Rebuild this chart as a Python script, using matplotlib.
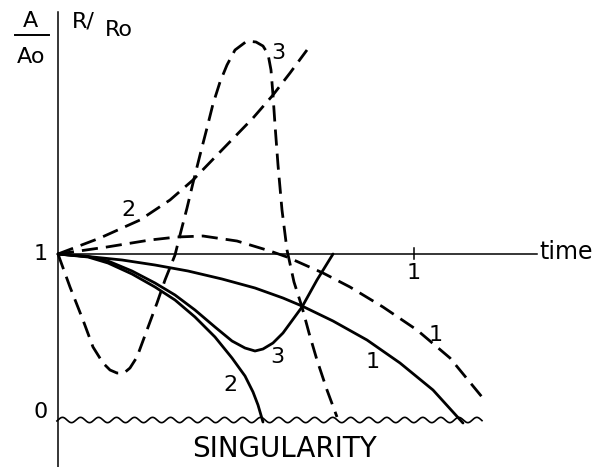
import numpy as np
import matplotlib
matplotlib.use("Agg")
import matplotlib.pyplot as plt

# ---------------- data (time, A/Ao or R/Ro) ----------------
solid1_t = [0, 0.0843, 0.1798, 0.2725, 0.3652, 0.4607, 0.5534, 0.6320, 0.6854, 0.7725,
            0.8680, 0.9607, 1.0534, 1.1376]
solid1_v = [1, 0.9849, 0.9639, 0.9337, 0.8976, 0.8494, 0.7952, 0.7349, 0.6867, 0.5964,
            0.4819, 0.3434, 0.1807, -0.0181]

solid2_t = [0, 0.0843, 0.1404, 0.2079, 0.2725, 0.3287, 0.3848, 0.4410, 0.4888, 0.5253,
            0.5478, 0.5618, 0.5758]
solid2_v = [1, 0.9819, 0.9458, 0.8795, 0.8012, 0.7229, 0.6205, 0.5000, 0.3735, 0.2651,
            0.1687, 0.0904, -0.0120]

solid3_t = [0, 0.0843, 0.1404, 0.2079, 0.2725, 0.3287, 0.3848, 0.4410, 0.4888, 0.5253,
            0.5534, 0.5758, 0.6039, 0.6320, 0.6854, 0.7275, 0.7725]
solid3_v = [1, 0.9849, 0.9578, 0.8976, 0.8253, 0.7530, 0.6627, 0.5602, 0.4759, 0.4337,
            0.4157, 0.4277, 0.4639, 0.5241, 0.6807, 0.8434, 1.0]

dashed1_t = [0, 0.1376, 0.2584, 0.3343, 0.4073, 0.5028, 0.5955, 0.6433, 0.7444, 0.8202,
             0.9129, 1.0084, 1.1011, 1.1910]
dashed1_v = [1, 1.0422, 1.0843, 1.1024, 1.1084, 1.0783, 1.0181, 0.9819, 0.8855, 0.8012,
             0.6807, 0.5422, 0.3735, 0.1386]

dashed2_t = [0, 0.1180, 0.2303, 0.3146, 0.3792, 0.4551, 0.5478, 0.6039, 0.6517, 0.6994]
dashed2_v = [1, 1.0964, 1.2048, 1.3253, 1.4458, 1.6145, 1.8193, 1.9578, 2.0904, 2.2289]

dashed3_t = [0, 0.0337, 0.0702, 0.0983, 0.1264, 0.1461, 0.1657, 0.1854, 0.2022, 0.2219,
             0.2500, 0.2781, 0.3006, 0.3287, 0.3427, 0.3624, 0.3792, 0.3989, 0.4185, 0.4354,
             0.4551, 0.4747, 0.4972, 0.5309, 0.5562, 0.5758, 0.5899, 0.5983, 0.6039, 0.6096,
             0.6180, 0.6292, 0.6433, 0.6629, 0.6854, 0.7051, 0.7275, 0.7556, 0.7837]
dashed3_v = [1.0, 0.8012, 0.6024, 0.4398, 0.3434, 0.3012, 0.2831, 0.2831, 0.3133, 0.3795,
             0.5422, 0.7048, 0.8434, 0.9940, 1.1145, 1.2771, 1.4277, 1.5964, 1.7590, 1.9036,
             2.0361, 2.1386, 2.2289, 2.2831, 2.2771, 2.2530, 2.2048, 2.1084, 1.9578, 1.7771,
             1.5361, 1.2651, 1.0241, 0.8313, 0.6807, 0.5241, 0.3614, 0.1807, 0.0181]

time_ticks = [1]

# ---------------- figure ----------------
fig = plt.figure(figsize=(6.05, 4.67), dpi=100)
ax = fig.add_axes([0, 0, 1, 1])
ax.set_xlim(-0.1629, 1.5365)
ax.set_ylim(-0.2831, 2.5301)
ax.axis("off")

ink = "black"
lw_s = 2.0
lw_d = 2.0
dash = (5.8, 2.9)

# axes
ax.plot([0, 0], [-0.29, 2.458], color=ink, lw=1.1)
ax.plot([0, 1.3455], [1, 1], color=ink, lw=1.1)
for tk in time_ticks:
    ax.plot([tk, tk], [0.970, 1.036], color=ink, lw=1.1)
    ax.text(tk, 0.886, "1", ha="center", va="center", fontsize=16)

# singularity wavy line (decoration)
tw = np.linspace(-0.003, 1.191, 800)
ax.plot(tw, 0.016 * np.sin(2 * np.pi * tw / 0.0506), color=ink, lw=1.2)

# curves
for tt, vv in [(solid1_t, solid1_v), (solid2_t, solid2_v), (solid3_t, solid3_v)]:
    ax.plot(tt, vv, color=ink, lw=lw_s, solid_joinstyle="round", solid_capstyle="round")
for tt, vv in [(dashed1_t, dashed1_v), (dashed2_t, dashed2_v), (dashed3_t, dashed3_v)]:
    ax.plot(tt, vv, color=ink, lw=lw_d, dashes=dash, dash_capstyle="butt",
            dash_joinstyle="round")

# texts
fs = 16
ax.text(-0.048, 1.0, "1", ha="center", va="center", fontsize=fs)
ax.text(-0.048, 0.048, "0", ha="center", va="center", fontsize=fs)
ax.text(1.351, 1.012, "time", ha="left", va="center", fontsize=17)
ax.text(-0.0787, 2.404, "A", ha="center", va="center", fontsize=16)
ax.plot([-0.1208, -0.0253], [2.319, 2.319], color=ink, lw=1.4)
ax.text(-0.0758, 2.187, "Ao", ha="center", va="center", fontsize=16)
ax.text(0.040, 2.398, "R/", ha="left", va="center", fontsize=16)
ax.text(0.132, 2.349, "Ro", ha="left", va="center", fontsize=16)

ax.text(0.197, 1.265, "2", ha="center", va="center", fontsize=fs)
ax.text(0.618, 2.211, "3", ha="center", va="center", fontsize=fs)
ax.text(0.615, 0.380, "3", ha="center", va="center", fontsize=fs)
ax.text(0.483, 0.211, "2", ha="center", va="center", fontsize=fs)
ax.text(0.885, 0.349, "1", ha="center", va="center", fontsize=fs)
ax.text(1.062, 0.512, "1", ha="center", va="center", fontsize=fs)

ax.text(0.635, -0.175, "SINGULARITY", ha="center", va="center", fontsize=20)

fig.savefig("out.png", dpi=100, facecolor="white")
